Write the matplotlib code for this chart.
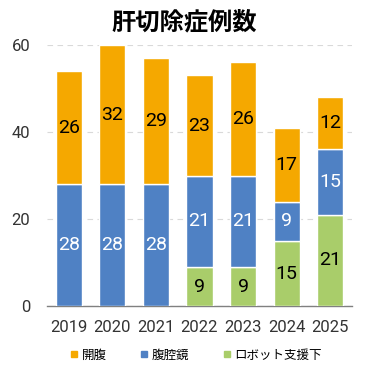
import matplotlib.pyplot as plt
from matplotlib.lines import Line2D

plt.rcParams['font.family'] = ['Roboto', 'Noto Sans CJK JP', 'DejaVu Sans']

years = ["2019", "2020", "2021", "2022", "2023", "2024", "2025"]
robot = [0, 0, 0, 9, 9, 15, 21]
lap = [28, 28, 28, 21, 21, 9, 15]
open_ = [26, 32, 29, 23, 26, 17, 12]

c_open = "#F5A800"
c_lap = "#4F81C4"
c_robot = "#A9CD6A"

fig = plt.figure(figsize=(3.76, 3.78), dpi=100)
ax = fig.add_axes([0.125, 0.19, 0.811, 0.691])

x = range(len(years))
w = 0.6
b1 = ax.bar(x, robot, w, color=c_robot, edgecolor="white", linewidth=1, zorder=3)
b2 = ax.bar(x, lap, w, bottom=robot, color=c_lap, edgecolor="white", linewidth=1, zorder=3)
bottom3 = [r + l for r, l in zip(robot, lap)]
b3 = ax.bar(x, open_, w, bottom=bottom3, color=c_open, edgecolor="white", linewidth=1, zorder=3)

for bars, vals, bots, col in [(b1, robot, [0] * 7, "black"),
                              (b2, lap, robot, "white"),
                              (b3, open_, bottom3, "black")]:
    for i, (v, b) in enumerate(zip(vals, bots)):
        if v > 0:
            ax.text(i, b + v / 2, str(v), ha="center", va="center",
                    color=col, fontsize=14, zorder=4)

ax.set_xlim(-0.5, 6.5)
ax.set_ylim(0, 60)
ax.set_yticks([0, 20, 40, 60])
ax.set_xticks(list(x))
ax.set_xticklabels(years)
ax.tick_params(length=0, labelsize=12, colors="#333333", pad=10)
ax.tick_params(axis="y", pad=12)
ax.yaxis.grid(True, linestyle=(0, (5, 4)), color="#d9d9d9", linewidth=0.8, zorder=0)
for s in ["top", "right", "left"]:
    ax.spines[s].set_visible(False)
ax.spines["bottom"].set_color("#808080")
ax.spines["bottom"].set_linewidth(1)

fig.text(0.49, 0.94, "肝切除症例数", ha="center", va="center",
         fontsize=17.5, fontweight="bold", family="Noto Sans CJK JP")

handles = [Line2D([], [], marker="s", linestyle="", color=c, markersize=4)
           for c in (c_open, c_lap, c_robot)]
fig.legend(handles, ["開腹", "腹腔鏡", "ロボット支援下"], loc="center",
           bbox_to_anchor=(0.52, 0.06), ncol=3, frameon=False, fontsize=9,
           handletextpad=0.2, columnspacing=2.6, handlelength=0.8)

fig.savefig("out.png", dpi=100)
